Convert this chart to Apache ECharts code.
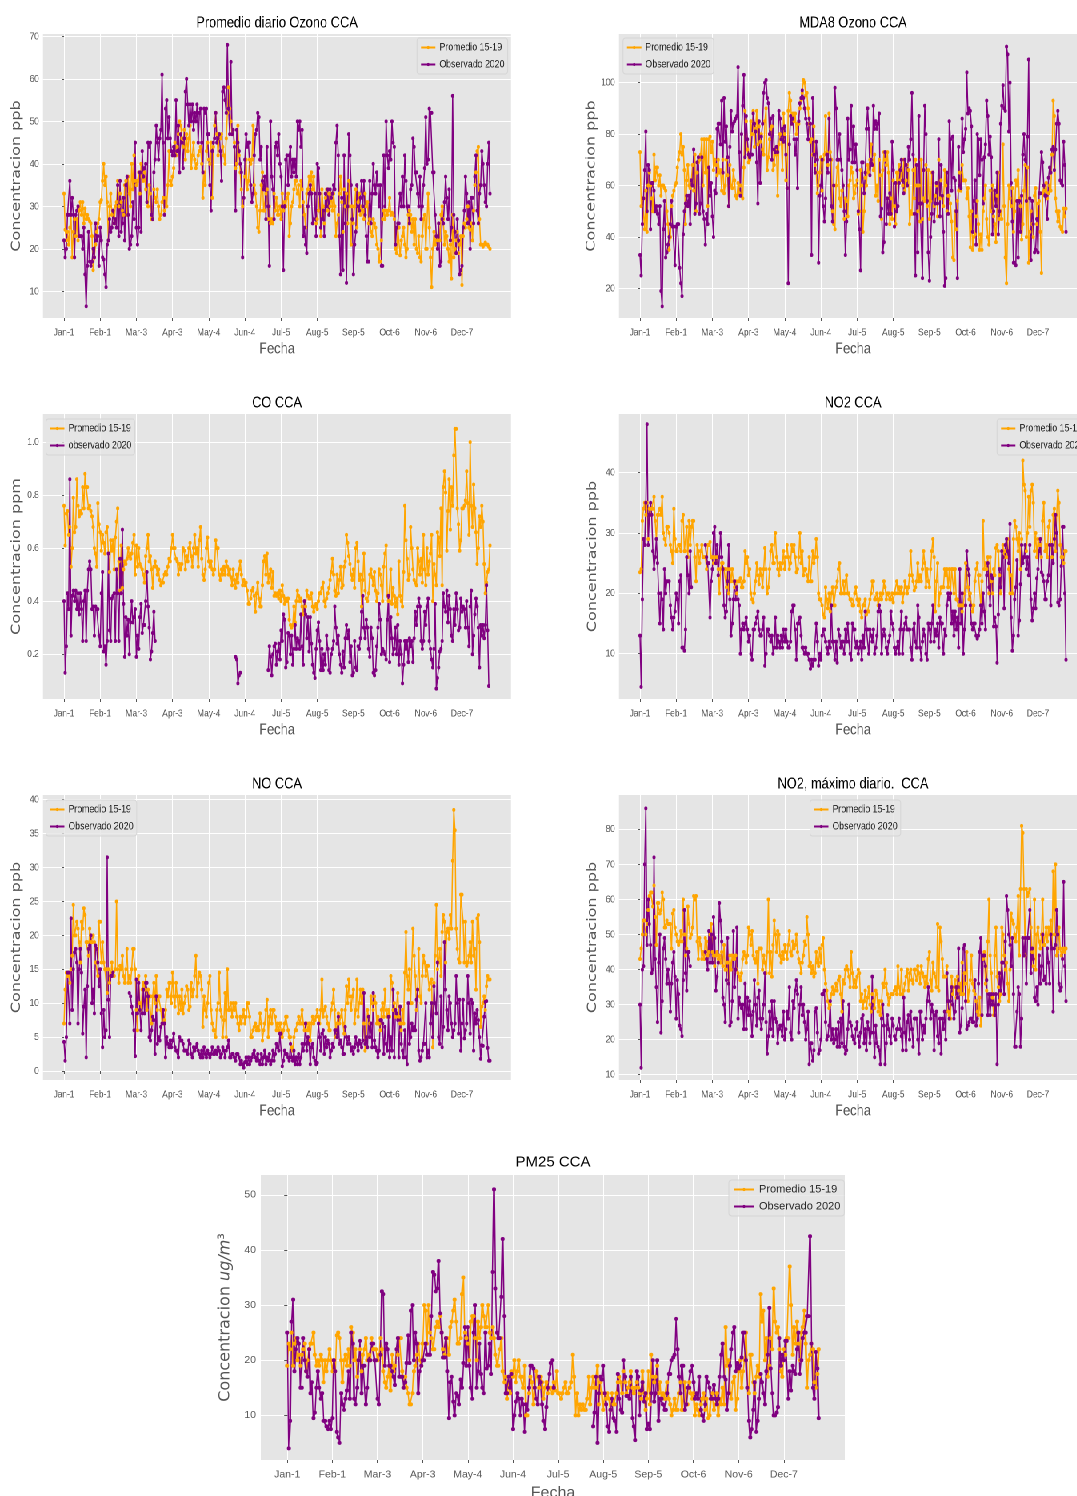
<!DOCTYPE html>
<html>
<head>
<meta charset="utf-8">
<title>CCA</title>
<script src="https://cdn.jsdelivr.net/npm/echarts@6/dist/echarts.min.js"></script>
<style>
html, body { margin: 0; padding: 0; background: #fff; overflow: hidden; }
#page { position: relative; width: 1077px; height: 1496px; overflow: hidden; filter: blur(0.4px); }
/* the six small subplots are squeezed sideways in the picture, the big one is not */
#small { position: absolute; left: 0; top: 0; width: 1347px; height: 1140px; transform: scaleX(0.8); transform-origin: left top; }
#big { position: absolute; left: 0; top: 1140px; width: 1077px; height: 356px; }
</style>
</head>
<body>
<div id="page">
<div id="small"></div>
<div id="big"></div>
</div>
<script>
// one row per 31 days, same spacing as the x ticks (last row is 25 days)
const fechaTicks = [0, 31, 62, 93, 124, 155, 186, 217, 248, 279, 310, 341];
const fechaLabels = ['Jan-1', 'Feb-1', 'Mar-3', 'Apr-3', 'May-4', 'Jun-4', 'Jul-5', 'Aug-5', 'Sep-5', 'Oct-6', 'Nov-6', 'Dec-7'];

const ozonoTicks = [10, 20, 30, 40, 50, 60, 70];
const mda8Ticks = [20, 40, 60, 80, 100];
const coTicks = [0.2, 0.4, 0.6, 0.8, 1.0];
const no2Ticks = [10, 20, 30, 40];
const noTicks = [0, 5, 10, 15, 20, 25, 30, 35, 40];
const no2MaxTicks = [10, 20, 30, 40, 50, 60, 70, 80];
const pm25Ticks = [10, 20, 30, 40, 50];

const ozonoProm = [
33,24.5,22,24,21,25,28,18,24,27,23,27,22,29,31,28,31,26,29.5,27,28,27,26.5,26,23,15,18,21,24,26,27,
31,31.5,36,40,35,37,31,22,30,33,28,29,26,30,31,36,30,33,31,29,28,35,36,28,37,33,30,40,34,42,36,
35,36,38,33,40,37,36,38,34,31,30,35,33,27,27,34,32,31,34,30,27,28,31,32,29,32,30,35,43,36,35,
37,39,45,42,44,47,50,49,46,44,48,41,47,43,46,49,39,42,45,41,39,40,42,43,44,40,32,38,35,43,45,
41,40,45,32,44,49,52,47,42,47,46,47,44,42,40,46,52,58,53,50,47,48,45,39,40,49,42,38,34,30,32,
37,41,34,36,41,40,41,49,35,33,30,25,24,29,35,38,29,29,33,34,27,30,26,27,26,33,29,32,28,28,30,
27,33,29,31,30,32,33,23,26,30,31,34,36,36,33,35,30,36,34,31,28,25,33,34,37,36,38,34,37,33,26,
27,29,33,23,34,30,26,32,34,29,33,30,33,29,33,30,23,26,28,33,37,31,24,34,30,33,26,36,30,21,30,
26,30,34,25,31,33,28,30,29,27,33,30,31,26,27,24,23,27,26,25,21,20,17,17,22,27,29,27,29,28,29,
32,28,28.5,28,27,20,19,25,25,18.5,22,23,25,21,18,20,28,29,28,24,27,21,27,20,19,23,18,17,23,27,28,
20,20,33,25,18,11,20,24,21,23,22,26,22,28,30,27,21,24,23,20,17,21,13,28,18,20,22,24,19,21,23,
11.5,23,26,25,27,30,25,24.5,26,22,29,35,38,43,44,27,21,21,20.5,21,21.5,21,21,20.5,20
];
const ozonoObs = [
22,18,20,28,28,36,28,32,28,18,28,29,30,23,23,23,20,25,14,6.5,16,24,17,16,17,20,18,26,22,23,16,
25,22,18,17.5,14,11,21,22,27,24,25,29,26,27,25,35,23,36,24,26,32,22,35,37,28,20,21,23,31,27,45,
25,21,25,38,24,43,37,39,40,31,45,44,45,28,27,38,41,49,45,41,46,48,61,45,28,53,55,46,51,46,43,
42,44,42,55,43,49,38,47,45,39,46,57,60,54,49,54,50,54,48,52,50,54,45,52,53,45,38,53,52,53,47,
47,35,29,43,45,46,52,45,46,47,43,36,57,58,55,52,68,53,47,64,47,48,44,29,48,45,43,40,38,18,32,
41,47,44,45,45,35,31,33,42,47,48,52,51,41,44,36,34,37,27,44,30,16,50,37,34,27,44,45,42,47,40,
37,30,15,30,41,42,35,42,44,37,41,38,41,37,50,48,50,44,48,23,25,21,19,30,33,35,33,26,27,33,23,
40,39,33,25,27,29,23,33,30,34,28,34,32,33,35,34,45,49,42,23,14,32,15,42,26,12,30,47,42,35,27,
14,21,24,35,30,29,32,36,30,36,28,23,17,17,36,26,33,40,35,33,38,35,30,35,16,16,42,30,50,42,39,
43,41,50,45,44,21,25,26,26,33,30,37,30,42,36,30,30,26,34,35,46,44,38,38,33,30,37,27,30,35,39,
51,40,41,53,52,52,38,38,28,23,20,26,16,17,27,26,31,37,32,27,34,22,25,56,28,24,19,27,22,14,15,
16,25,29,37,33,26,31,20,32,32,26,37,42,29,26,33,35,43,40,35,31,30,40,45,33
];

const mda8Prom = [
73,52,55,55,43,58,42,60,65,60,55,50,72,62,67,67,60,64,56,60,60,59,58,50,45,35,40,52,56,58,60,
61,67,70,73,80,72,75,66,45,62,68,60,59,62,68,58,72,50,65,69,70,72,78,60,78,65,78,52,78,79,73,
77,66,70,68,64,70,65,66,58,70,57,60,70,64,52,68,60,59,66,62,56,55,61,57,60,56,55,67,89,85,74,
69,70,85,80,89,75,82,89,76,83,77,80,74,72,85,90,66,71,78,82,83,66,68,74,72,56,76,80,78,66,88,
80,62,59,89,96,93,84,88,85,88,80,84,84,90,93,96,101,100,95,96,90,84,77,78,72,83,68,65,57,60,65,
71,58,70,72,87,73,68,88,73,70,50,45,43,60,67,70,55,52,58,60,47,55,54,48,60,62,67,65,55,57,60,
62,49,50,66,60,42,50,63,60,68,65,70,76,70,66,72,56,60,54,70,64,47,66,73,70,68,73,65,45,55,47,
62,52,45,65,61,68,62,66,60,70,58,62,68,66,45,50,49,66,55,70,60,50,60,46,70,47,55,54,68,52,66,
47,54,65,65,52,56,60,48,70,55,62,56,52,66,60,50,56,56,53,46,32,31,50,43,54,58,65,58,68,62,62,
62,55,59,48,36,50,35,40,41,48,54,45,35,41,35,50,55,60,47,40,37,58,50,60,48,45,38,56,65,47,50,
47,76,52,32,22,45,60,55,52,59,42,50,62,60,66,55,52,39,45,58,68,40,67,30,42,50,45,40,56,59,45,
53,54,42,26,57,60,58,61,55,57,60,58,72,93,87,55,50,46,50,44,43,42,51,48,51
];
const mda8Obs = [
33,25,45,55,66,81,50,68,66,43,61,61,58,50,52,49,45,52,19,13,43,54,32,34,37,40,45,54,44,44,29,
44,45,45,28,22,17,41,50,53,56,52,56,45,62,60,74,49,53,69,71,49,53,71,50,47,37,49,45,67,56,61,
48,40,58,57,82,84,84,76,93,65,94,77,83,71,52,75,89,81,84,85,86,87,106,73,56,80,91,103,71,87,78,
72,71,72,72,88,84,81,69,53,85,61,79,84,96,100,101,94,92,80,86,70,87,74,73,75,73,89,86,78,82,77,
83,72,59,22,76,87,84,86,78,72,78,59,85,92,94,97,94,90,86,84,78,86,84,33,94,72,65,77,70,30,56,
60,70,52,46,55,72,65,86,70,52,46,60,98,90,70,70,80,70,66,60,50,33,46,86,70,74,91,69,83,69,76,
66,50,43,27,69,69,57,65,82,90,82,64,70,68,91,82,85,82,84,88,48,51,34,38,73,45,55,49,57,49,77,
66,44,61,50,52,61,66,70,62,57,70,68,60,75,70,78,96,72,49,25,68,34,87,53,53,24,66,91,80,54,34,
23,40,49,65,46,53,61,53,78,48,68,56,42,21,24,65,49,85,78,58,79,63,62,50,24,75,60,59,86,73,78,
82,104,88,90,89,83,42,54,62,37,80,78,64,78,70,53,71,76,93,87,72,79,71,41,50,58,52,65,41,50,84,
91,99,90,89,114,111,81,100,61,46,30,30,29,54,32,54,42,56,72,80,70,54,79,109,55,31,54,45,34,35,47,
34,57,57,73,69,60,56,56,47,63,67,65,74,75,66,74,84,89,84,62,61,60,77,68,42
];

const coProm = [
.76,.61,.73,.74,.65,.68,.53,.6,.79,.66,.68,.86,.76,.72,.74,.73,.83,.75,.88,.83,.83,.75,.76,.74,.72,.68,.6,.58,.53,.77,.69,
.66,.59,.65,.62,.58,.66,.68,.58,.51,.63,.59,.63,.52,.64,.7,.75,.55,.44,.61,.45,.52,.55,.54,.56,.6,.57,.56,.58,.62,.65,.5,
.61,.53,.6,.54,.53,.52,.5,.47,.57,.6,.65,.55,.57,.52,.45,.53,.55,.53,.5,.52,.48,.46,.47,.47,.5,.51,.5,.53,.56,.55,.6,
.65,.6,.6,.56,.55,.5,.54,.52,.54,.6,.59,.52,.57,.55,.6,.62,.57,.53,.6,.65,.58,.6,.53,.63,.68,.56,.5,.48,.52,.6,.64,
.55,.53,.55,.52,.5,.52,.63,.6,.6,.5,.48,.52,.5,.53,.5,.55,.53,.5,.52,.49,.46,.52,.48,.45,.5,.47,.52,.55,.5,.46,.48,
.46,.47,.44,.39,.39,.41,.44,.45,.42,.36,.43,.47,.41,.38,.38,.46,.55,.57,.5,.58,.47,.5,.52,.45,.51,.42,.43,.42,.43,.41,.44,
.4,.46,.42,.39,.41,.4,.41,.33,.31,.3,.31,.38,.32,.4,.44,.42,.4,.41,.38,.35,.4,.38,.44,.42,.41,.41,.43,.38,.36,.38,.39,
.37,.4,.43,.43,.45,.47,.4,.38,.41,.43,.45,.48,.51,.56,.5,.44,.42,.5,.43,.48,.53,.45,.46,.53,.55,.65,.62,.57,.54,.5,.48,
.52,.45,.6,.62,.55,.48,.5,.38,.48,.58,.44,.41,.4,.43,.5,.52,.49,.46,.51,.44,.4,.43,.52,.5,.46,.4,.53,.58,.61,.42,.4,
.4,.52,.39,.45,.42,.38,.41,.35,.55,.42,.4,.38,.51,.76,.63,.56,.48,.5,.68,.6,.52,.48,.47,.46,.6,.55,.5,.56,.47,.65,.52,
.46,.6,.5,.55,.58,.65,.4,.54,.5,.46,.66,.64,.57,.75,.46,.83,.89,.81,.59,.74,.86,.67,.83,.76,.95,1.05,1.05,.75,.69,.59,.63,
.75,.75,.76,.78,.89,.77,.65,1.0,.76,.68,.84,.75,.66,.54,.6,.72,.68,.76,.7,.54,.43,.47,.51,.52,.61
];
const coObs = [
.4,.13,.23,.43,.37,.86,.27,.42,.44,.4,.44,.37,.43,.35,.43,.37,.25,.4,.44,.25,.44,.52,.55,.52,.37,.38,.27,.38,.37,.37,.27,
.23,.43,.51,.21,.23,.16,.25,.58,.29,.25,.41,.42,.43,.25,.52,.43,.25,.56,.43,.67,.39,.19,.34,.27,.33,.2,.32,.4,.32,.34,.37,
.19,.27,.22,.34,.39,.28,.31,.31,.4,.51,.38,.3,.18,.21,.28,.36,.25,null,null,null,null,null,null,null,null,null,null,null,null,null,
null,null,null,null,null,null,null,null,null,null,null,null,null,null,null,null,null,null,null,null,null,null,null,null,null,null,null,null,null,null,null,
null,null,null,null,null,null,null,null,null,null,null,null,null,null,null,null,null,null,null,null,null,null,null,null,.19,.18,.09,.12,.13,null,null,
null,null,null,null,null,null,null,null,null,null,null,null,null,null,null,null,null,null,null,null,null,.14,.23,.19,.12,.2,.23,.24,.16,.21,.24,
.18,.29,.25,.35,.33,.15,.17,.28,.27,.2,.27,.16,.22,.31,.22,.26,.25,.22,.35,.23,.16,.4,.35,.26,.34,.21,.34,.24,.16,.13,.11,
.22,.29,.32,.25,.14,.22,.14,.2,.16,.27,.22,.14,.13,.2,.22,.25,.38,.3,.24,.27,.2,.16,.13,.21,.15,.26,.31,.26,.29,.17,.23,
.12,.13,.25,.15,.14,.23,.22,.26,.36,.42,.3,.26,.33,.3,.22,.19,.3,.26,.13,.12,.14,.23,.3,.39,.33,.2,.22,.21,.2,.18,.33,
.42,.17,.34,.26,.2,.22,.3,.2,.31,.16,.25,.2,.09,.16,.25,.22,.25,.17,.26,.23,.25,.17,.26,.36,.31,.38,.41,.38,.25,.22,.25,
.36,.31,.38,.41,.25,.22,.18,.15,.22,.39,.07,.11,.15,.21,.22,.25,.43,.38,.36,.44,.32,.42,.37,.27,.25,.37,.31,.43,.37,.29,.3,
.41,.36,.38,.37,.3,.4,.3,.23,.38,.44,.2,.27,.35,.41,.38,.3,.15,.31,.27,.31,.26,.31,.46,.29,.08
];

const no2Prom = [
23.5,24,32,34,35,33,35,29,34,33,34,34,36,32,29,33,33,34,33,36,30,29,28,31,31,30,28,27,25,34,29,
27,27,28,28,27,32,33,27,27,31,26,32,28,31,32,32,26,22,28,27,25,27,28,26,26,26,24,28,28,28.5,26,
26,25,26,25,26,24,20,24,25,25,24,24,21,24,20,24,22,24,22,21,22,20,22,22,22.5,21,21,22,27,25,26,
23,24,20,19,18.5,20,22,25,23,21.5,24,23,21,24,27.5,24,20,21,24,27,28,25,25,30,26,24,23,25,24,25,27,
24,26,28,26,24,25,28,27,28,26,23.5,24,26,30,25,27,23,24,24,23,22,26,22,22,27,25,26,29,26,20,19,
19,18,16.5,16,21,19,17.5,20,17,20,21,18,18,21,22,24,25,20,20,22,20,22,23,20,20,19,19,18,18,20,21,
19,18,19,17,16,18,18,19,16.5,17,17,19,20,22,22,19,19,20,18,19,20,19,20,22,21,19,20,20,19,19,20,
18.5,20,20,22,20,21,20,21,18.5,20,22,21,20,21,23,27,23,22,20.5,21,22,25,22,23,22,24,27,25,21,24,22,
21,24,27,29,26,17,22,25,18,20,21,21,21,24,23,24,21,24,20,24,24,20,24,19,19,18,18,18,17,18,20,
25,24,21,19,20,18,17,18,22,24,25,23,23,18,22,32,24,25,24,26,20,26,22,20,24,23,27.5,28,27,23,20,
27,28,26,27,26,29,24,20,23,20,29,32,31,29,27,30,24,29,42,38,37,27,30,36,31,37,38,35,27,30,26,
29,28,28,26,32,35,27,28,26,31,32,28,26,33,34,27,33,37,35,28,26,26,25,27,27
];
const no2Obs = [
13,4.5,19,29,28,35,48,28,33,35,33,27,24,26,29,25,20,15,20,19,14,24,20,22,22,22,18,16,14,16,17,
20,19,15,22,23,11,11,10.5,14,26,23,20,27,21,null,null,null,null,null,null,null,null,null,null,null,28,26,25,25,16,22,
24,30,31,25,28,23,26,30,26,24,18,16,17,22,28,19,13,15,19,22,19,21,19,18,10,14,15,14,15,16,14,
12,13,10,9,14,14,15,16,17,14,13,13,14,16,8,10,14,14,13,12,13,10,11,16,11,13,12,11,13,11,14,
12,14,12,11,11,12,17,18,18,14,9,15,15,16,13,11,11,10,11,10,10,9,7.5,9,8,9,9,15,12,8,10,
9,13,14,14,12,11,10,12,11,18,12,12,9,12,8.5,14,13,11,12,12,10,14,12,15,12,10,9,15,14,14,11,
12,10,11,12,9,13,11,17,14,14,10,14,13,12,14,10,11,13,17,18,17,10,13,14,13,11,10,12,13,17,15,
14,11,10,11,12,10,14,17,10,14,15,16,14,14,14,11,9,14,15,12,11,18,16,11,9,12,14,13,10,9,15,
14,12,15,18,12,14,13,15,11,16,15,15,10,14,13,18,20,19,20,15,17,13,17,14,16,11,24,15,20,10,14,
18,27,24,23,18,15,14,15,15,13,12.5,13,14,18,15,20,17,14,23,25,21,18,23,22.5,14.5,16,14.5,8.5,16.5,24,21,
27,26,17.5,28,29,27,25,31.5,16,10.5,13,19,21,25.5,13,15.5,21.5,28,25,26,28,24,26,23,28,19,15.5,17.5,20,17.5,22.5,
24,27,29,23.5,23,22,19,19,22,23,28,18,28,25,29,33,30,18.5,18,19,24.5,31,31,20,9
];

const noProm = [
7,12,14.5,14,14.5,13,15,17,24.5,20,20,22,21,19,16,22,21,24,23,19,19,17,21,19,19,20,19,16,16,14,22,
22,16,19,16,15,15,11.5,15,13,14,16,14,14,15,25,15,13,15.5,15,17,14,13,15,18,13,14,13,15,18,18,15,
9,6,14,10,9,12,13,12,14,9,12,11,11,7,11,13,10,14,9,11,11,9,7,7,7.5,9,12,11,13,13,10,
14.5,11,9.5,13,11,8.5,11,9,12,8.5,10,11,12.5,12,9,9.5,13,11,12,14,17,11,13,14.5,14,12,6.5,11,9,8,10,
13,14,9,7,6,6,5,9,10,14.5,9,8,5,7.5,11.5,5,15,9,9,10,8,10,9,10,8,7,6,8,7,8,9,
7,8,10,10,8,5,5,6,6.5,7,6,6.5,6,8.5,7,4.5,6,7,9,10.5,5,8,9,7,9,9,8,6,7,6,7,
7,5,6,7,8,8,6,5,5,3.5,3,5,6,6,7,8,7,7,9,7,6,6,7,6,7,4.5,7,8,7,7.5,8,
9,8,7,9,13.5,8,9,9.5,8,7,6,6,9,10,12,9,5,7,8.5,7,8,9,7,5.5,9,12.5,10,13.5,11,9,11,
12,7,9,13.5,8,10,12,10,12,7,3,5,9,8,7,11,10,9,11,10,7,8,7,6,9,10,8,12,9,8,9,
8,14,13,9,10,8,8,11.5,8,7,6,9,7,14.5,20.5,14,12,15,10,10,21,17,14,9,12,18,11,10,14,17,16,
14,15.5,15.5,12,13,13.5,3.5,13,17,24.5,15,16,18,14,20.5,23,22,16,20.5,21,19.5,23,21,31,38.5,35.5,21,18,16.5,16,26,
26,22,16,22,15.5,16,17,19,16,22,17,18,12,22.5,23,19,6.5,9.5,10,11,9,12.5,14,13.5,13.5
];
const noObs = [
4.3,1.5,5,14.5,14.5,7,22.5,9,15,17.5,18,16,7,15,18,14.5,5.5,9.5,12,2,12.5,18,18.5,20,10,12,8.5,18.5,18,16,12.5,
15,8.5,3.5,9,5,6,31.5,10.5,5,14,14,14.5,null,null,null,null,null,null,null,null,null,null,null,null,null,11.5,11,9.5,8.5,6,2.2,
13.5,8.5,13,9,6,8.5,12,8.5,13,13,11,5,4.5,6,8,7.5,2.5,11,4,5,4.5,6.5,7,9,7,2,5,4,3.5,4.5,3.5,
4.5,5.5,3.5,3,3,2,5,4.5,4.5,4,3,3,3,2.5,4.5,4,2.5,2,3.5,3,3.5,4,3,2.5,2,3,2,3.5,2.5,2,3,
2.5,2,2.5,3.5,2.5,2.5,3,2.5,3.5,3,2,2.5,3.5,3,2,3,3.5,4.5,2,2,2.5,2.5,2,1.5,2.5,2.5,2,1,1.5,1,0.5,
1.3,2,1,2,1,1.5,2,2.5,3,2,1.5,2.5,1.5,1,2.5,1,2,3,1,2,1.5,2.5,1,1.5,3,1.5,2.5,4,3.5,3,5.5,
5.5,0.7,1.5,3,2.5,2.5,2,1.5,4,2,1.5,3,1,2,1,2.5,1,2,4,3,4,7,3,5,4,1,3.5,4,2,1.5,1,
1.2,7,5,3,5.5,6,2.5,5,3.5,4.5,4,2,3,4,3.5,6,6,5,8,4,4.5,3.5,2.5,2.5,6.5,5,4,5,4,3,3.5,
2.5,3.5,5,4,3,4.5,4,3.5,4.5,11.5,4,5,3.5,8,5,7,3.5,11.5,4.5,3.5,3,2,3,7.5,7.5,7,2.5,6.5,4,3,8,
2,5,3,12,2,9,8.5,7.5,2,9.5,4,3,2,6,2,1,10,4,5,7,6,6.5,6,10.5,12,3,1.5,2,3,4,4,
10,2,3,2,7,10,5,12.5,10,8.5,16,5,4,11,3.5,6.5,19,12,9,6,11,10,7,5,6,7,14,10,5.5,10.5,3,
7,10.5,4.8,6,7,14,10,5.5,10.5,10,3,8.5,7,9,7.5,5,1.8,3.8,3.7,8,10.2,10.3,3.4,1.5,1.5
];

const no2MaxProm = [
43,46,50,54,54,50,53,57,61,62,62,58,64,55,47,59,59,56,57,62,60,52,52,54,53,53,53,46,56,57,52,
50,48,47,48,51,48,60,50,44,46,58,53,49,50,52,61,60,61,48,43,49,47,43,45,43,49,48,44,45,50,53,
45,44,41,44,45,43,44,42,45,41,47,40,40,42,36,44,40,44,43,43,44,40,39,38,37,39,43,45,44,42,44,
52,50,47,51,44,43,42,45,36,46,46,46,40,44,42,39,45,60,39,45,38,47,54,50,45,51,50,44,42,45,43,
47,45,43,47,51,45,44,48,46,47,50,45,43,42,39,42,44,48,47,55,50,41,42,39,41,38,39,45,42,41,46,
42,47,49,40,36,34,31,29,30,33,35,33,34,36,34,37,38,33,28,37,36,40,41,40,38,35,45,39,35,37,35,
38,40,39,31,33,29,31,34,29,32,35,30,28,33,31,29,34,33,28,31,27,31,36,35,40,36,33,30,32,33,33,
33,34,35,33,41,35,33,40,33,34,36,38,40,34,39,40,37,36,40,40,37,41,39,36,41,39,38,35,38,36,43,
45,37,34,42,39,38,35,53,34,52,48,43,38,38,38,41,28,27,26,38,33,35,37,32,38,34,36,33,42,33,39,
36,45,31,34,37,44,36,34,33,31,28,27,32,24,27,43,45,36,34,48,60,44,39,32,27,44,52,38,35,31,33,
52,50,44,40,42,36,31,40,56,54,53,50,48,52,61,44,63,81,79,63,44,63,61,62,63,52,45,41,60,40,50,
52,48,46,50,60,47,47,52,48,52,50,54,46,68,50,70,44,45,52,46,44,45,46,45,46
];
const no2MaxObs = [
30,12,40,41,70,86,47,60,53,47,39,40,72,43,35,25,42,50,22,31,46,49,43,36,40,36,28,36,42,45,38,
26,37,33,24,23,21,37,57,39,34,45,45,41,null,null,null,null,null,null,null,null,null,null,null,null,45,43,40,51,42,50,
42,55,49,34,38,42,59,54,48,32,30,25,37,49,36,24,25,31,51,35,40,52,26,32,30,29,30,23,36,23,32,
27,31,27,21,28,37,30,24,32,34,26,23,26,30,39,25,16,21,28,23,31,21,31,26,25,19,23,24,24,21,28,
20,23,28,26,35,22,20,31,29,34,37,33,22,30,35,27,30,25,20,23,28,13,19,19,14,17,28,29,22,16,17,
20,33,33,34,25,20,21,24,31,20,23,19,20,23,18,25,18,26,19,31,18,16,17,23,30,25,24,21,20,19,23,
25,21,18,22,26,27,19,23,17,25,23,19,22,38,22,15,24,19,18,17,13,26,30,24,13,19,27,23,21,19,26,
24,21,20,23,23,26,23,21,17,32,22,17,25,27,20,28,23,18,26,26,26,20,16,28,28,20,24,22,26,31,35,
31,26,30,28,17,27,28,21,19,26,16,26,23,28,20,39,31,26,31,35,30,26,28,35,32,46,22,24,29,46,47,
31,23,24,25,26,26,25,25,37,24,26,36,45,49,27,44,44,41,37,27,33,27,33,30,33,27,33,13,30,39,34,
42,42,33,48,61,57,50,47,41,49,33,18,18,28,35,33,18,26,49,44,49,36,49,49,57,39,46,43,32,31,35,
30,44,36,41,50,37,38,36,46,42,36,50,46,28,46,47,57,50,36,34,35,43,65,41,31
];

const pm25Prom = [
19,23,22,25,19,23,24,20,21,19,21,22,23,18,20,22,23,23,25,21,19,20,19,21,20,16,20,18,20,22,20,
18,20,18,24.5,25,24,20,16,20,21,19,22,19,26,25,20,22,17,20,22,18,21,22,24,20,21,20,24,22,22,22,
20,21,24,22,18,16,15,17,19,14.5,21,18,19,22,21,24,24,18,15,17,15,14,12,12,14,18,19,21,23,20,19,
23,30,29,23,30,25,24,22,22,26,27,26,28,25,22,21,24,24,21,26,27,29,31,27,23,23,24,32,35,25,24,
23,20,27,28,28,24,20,27,24,26,30,28,26,26,30,25,24,26,24,21,19,19,22,24,18,16,17,13,17,14,18,
17,20,16,18,20,17,17,15,19,10,10,14,17,16,12,15,18,17,15,17,16,13,15,16,14,15,15,14,16,14.5,18,
14,14,13,14,15,16,14,14,15,16,21,17,10,14,10,12,11,12,11,11,13,17,12,15,17,15,15,19,12,16,14,
11,14,13,14,13,11,14,12,12,14,16,17,16,14,18,16,14,15,16,18,15,14,15,16,15,14,13,18,14,11,13,
18,12,21,17,16,17,19,14,16,13,14,13,13,16,13,12,10,11,13,11,11,14,16,11,11,16,12,12,16,14,13,
14,10,12,11,10,12,13,14,11,13,9.5,10,13,14,11,12,14,10,13,12,15,12,26,19,20,14,13,16,17,11,13,
18,20,15,18,20,25,15,14,21,21,16,14,17,19,17,32,27,29,20,24,17,19,24,22,33,27,25,26,22,18,17,
22,21,24,24,37,30,21,26,23,27,23,20,25,26,29,23,15,20,21,23,22,16,15,17.5,22
];
const pm25Obs = [
25,4,9,27,31,18,22,24,23,15,15,24,20,18,17,22,14,16,9.5,10.5,15,18,15,13,14,9,9,8,7.5,9,7.5,
9.5,20,18,7,6,5,14,12,11,13,14.5,18,13,25,23,13,12,15,20,23.5,14,19,19,12,15,20,20,23,23,20,20,
13,12,21,32.5,32,19,23,22,19,19,18,17,15.5,22,24,17,17,17,15,16,19.5,24.5,19.5,29,30,20,25,23,14,18,19,
20,20,23,21,21,21,28,36,35.5,32.5,33,38,28.5,25,20.5,20.5,24,18,9.5,16,17,12.5,10,14,13.5,12,16.5,15,19.5,26,19,
26,19,15,13,25,30,15,18,23,17.5,15,14,25,18.5,19,23,17.5,36,51,33,25,24,24,31.5,42,28,14,14,17,15,17.5,
7.5,10,12.5,14,13,10,13,12,7,12,11,15,19,19,18.5,15,13,12,17,16,12,9,7.5,11.5,15,17.5,19.5,20,15,null,null,
null,null,null,null,null,null,null,null,null,null,null,null,null,null,null,null,null,null,null,null,null,null,null,null,8,10.5,17,5,14,17,16.5,
19,14,12,8,7,11,13,9.5,9,7,17.5,13,11,10.5,20,17,13.5,13.5,13,17,9.5,8,5.5,18,17,10,14.5,16,12.5,14,7.5,
8.5,7.5,14,20,12.5,14,20,9,13,13,12,11,11,14,17.5,17.5,20,20.5,21,27.5,22,17,14,19,19,11,12,15,15,18,19,
16,13,14,13,17,11,10,9,12,17,16,15,13,13,15.5,13,12,13,17,21,23,17,16.5,11,14,19,22,25,26,18,19.5,
18.5,19,20.5,25,25,20,15,9,6,7.5,11,16,7,9,13,17.5,16,14,12,18,21,29.5,18.5,14,10,10,10.5,11.5,24,19,21,
20,23.5,23.5,13,18,14.5,19,18,17.5,22,25,17.5,20,24,25,25,28,28,42.5,23,15,13,21.5,18.5,9.5
];

const SANS = '"Liberation Sans", sans-serif';
const GREY = '#555555';
const SQUEEZE = 0.8; // sideways scale of #small, see the css

// layout of each subplot in page pixels, plus which arrays go in it
const smallPanels = [
    { title: 'Promedio diario Ozono CCA', ylabel: 'Concentracion ppb', prom: ozonoProm, obs: ozonoObs, obsName: 'Observado 2020', ticks: ozonoTicks, ymin: 3.74, ymax: 70.56, left: 43, top: 34, w: 468, h: 284, legend: [417, 38] },
    { title: 'MDA8 Ozono CCA', ylabel: 'Concentracion ppb', prom: mda8Prom, obs: mda8Obs, obsName: 'Observado 2020', ticks: mda8Ticks, ymin: 8.5, ymax: 118.9, left: 619, top: 34, w: 468, h: 284, legend: [623, 38] },
    { title: 'CO CCA', ylabel: 'Concentracion ppm', prom: coProm, obs: coObs, obsName: 'observado 2020', ticks: coTicks, ymin: 0.031, ymax: 1.106, left: 43, top: 414, w: 468, h: 285, legend: [46, 419] },
    { title: 'NO2 CCA', ylabel: 'Concentracion ppb', prom: no2Prom, obs: no2Obs, obsName: 'Observado 2020', ticks: no2Ticks, ymin: 2.5, ymax: 49.7, left: 619, top: 414, w: 468, h: 285, legend: [997, 419] },
    { title: 'NO CCA', ylabel: 'Concentracion ppb', prom: noProm, obs: noObs, obsName: 'Observado 2020', ticks: noTicks, ymin: -1.33, ymax: 40.7, left: 43, top: 795, w: 468, h: 285, legend: [46, 800] },
    { title: 'NO2, máximo diario.  CCA', ylabel: 'Concentracion ppb', prom: no2MaxProm, obs: no2MaxObs, obsName: 'Observado 2020', ticks: no2MaxTicks, ymin: 8.5, ymax: 89.8, left: 619, top: 795, w: 468, h: 285, legend: [810, 800] }
];
const bigPanels = [
    { title: 'PM25 CCA', ylabel: 'Concentracion {i|ug/m}³', prom: pm25Prom, obs: pm25Obs, obsName: 'Observado 2020', ticks: pm25Ticks, ymin: 1.9, ymax: 53.6, left: 261, top: 35, w: 584, h: 285, legend: [729, 40], big: true }
];

function lineSeries(name, vals, color, i) {
    return {
        name: name,
        type: 'line',
        xAxisIndex: i,
        yAxisIndex: i,
        data: vals.map((v, d) => [d, v]),
        symbol: 'circle',
        symbolSize: 4,
        showSymbol: true,
        connectNulls: false,
        lineStyle: { color: color, width: 1.5 },
        itemStyle: { color: color },
        emphasis: { disabled: true }
    };
}

function buildOption(panels, k) {
    const option = { animation: false, backgroundColor: '#fff', title: [], legend: [], grid: [], xAxis: [], yAxis: [], series: [] };
    panels.forEach((p, i) => {
        // the right column runs off the page in the picture, so no fitting to the canvas
        option.grid.push({ left: p.left / k, top: p.top, width: p.w / k, height: p.h, show: true, backgroundColor: '#E5E5E5', borderWidth: 0, outerBoundsMode: 'none' });
        option.title.push({
            text: p.title,
            left: (p.left + p.w / 2) / k,
            top: p.big ? p.top - 20 : p.top - 19,
            padding: 0,
            textAlign: 'center',
            textStyle: { fontFamily: SANS, fontSize: p.big ? 15 : 16, fontWeight: 'normal', color: '#000' }
        });
        option.legend.push({
            orient: 'vertical',
            left: p.legend[0] / k,
            top: p.legend[1],
            data: ['Promedio 15-19', p.obsName],
            itemWidth: p.big ? 20 : 18,
            itemHeight: 4,
            itemGap: 6,
            padding: 4,
            backgroundColor: 'rgba(229,229,229,0.8)',
            borderColor: '#d6d6d6',
            borderWidth: 1,
            borderRadius: 3,
            textStyle: { fontFamily: SANS, fontSize: 11, color: '#222' }
        });
        option.xAxis.push({
            type: 'value',
            gridIndex: i,
            min: -18,
            max: 383,
            name: 'Fecha',
            nameLocation: 'middle',
            nameGap: p.big ? 22 : 23,
            nameTextStyle: { fontFamily: SANS, fontSize: 16, color: GREY },
            axisLine: { show: false },
            axisTick: { show: true, length: 3, lineStyle: { color: GREY }, customValues: fechaTicks },
            axisLabel: {
                color: GREY,
                fontFamily: SANS,
                fontSize: 10.5,
                margin: 9,
                customValues: fechaTicks,
                formatter: v => fechaLabels[fechaTicks.indexOf(v)]
            },
            splitLine: { show: true, lineStyle: { color: '#fff', width: 1 } }
        });
        option.yAxis.push({
            type: 'value',
            gridIndex: i,
            min: p.ymin,
            max: p.ymax,
            name: p.ylabel,
            nameLocation: 'middle',
            nameGap: 25,
            nameTextStyle: {
                fontFamily: 'DejaVu Sans',
                fontSize: 16,
                color: GREY,
                rich: p.big ? { i: { fontFamily: 'DejaVu Sans', fontStyle: 'italic', fontSize: 16, color: GREY } } : undefined
            },
            axisLine: { show: false },
            axisTick: { show: true, length: 3, lineStyle: { color: GREY }, customValues: p.ticks },
            axisLabel: {
                color: GREY,
                fontFamily: SANS,
                fontSize: 10.5,
                margin: 5,
                customValues: p.ticks,
                formatter: v => (p.ticks === coTicks ? v.toFixed(1) : String(v))
            },
            splitLine: { show: true, lineStyle: { color: '#fff', width: 1 } }
        });
        option.series.push(lineSeries('Promedio 15-19', p.prom, '#FFA500', i));
        option.series.push(lineSeries(p.obsName, p.obs, '#800080', i));
    });
    return option;
}

// drawn at 2x so the squeezed text comes out smooth
echarts.init(document.getElementById('small'), null, { devicePixelRatio: 2 }).setOption(buildOption(smallPanels, SQUEEZE));
echarts.init(document.getElementById('big'), null, { devicePixelRatio: 2 }).setOption(buildOption(bigPanels, 1));
</script>
</body>
</html>
